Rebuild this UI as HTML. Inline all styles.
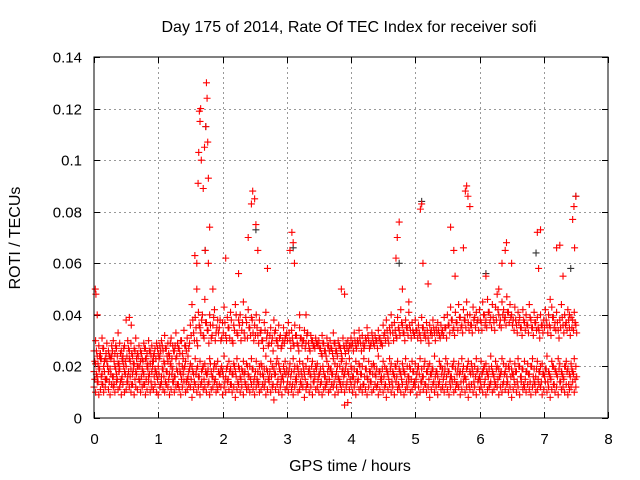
<!DOCTYPE html>
<html><head><meta charset="utf-8"><style>
body{margin:0;background:#fff;}
svg{display:block;font-family:"Liberation Sans",sans-serif;}
</style></head><body>
<svg id="chart" width="640" height="480" xmlns="http://www.w3.org/2000/svg">
<text x="349" y="32" font-size="16" text-anchor="middle" fill="#000">Day 175 of 2014, Rate Of TEC Index for receiver sofi</text>
<text x="350" y="471" font-size="16" text-anchor="middle" fill="#000">GPS time / hours</text>
<text x="20" y="238" font-size="16" text-anchor="middle" fill="#000" transform="rotate(-90 20 238)">ROTI / TECUs</text>
<g id="grid"></g>
<g id="ticks"></g>
<g id="marks-black"></g>
<g id="marks"></g>
<rect x="94" y="57" width="514" height="361" fill="none" stroke="#000" stroke-width="1"/>
</svg>
<script>
const xTicks=[0,1,2,3,4,5,6,7,8];
const yTicks=[0,0.02,0.04,0.06,0.08,0.1,0.12,0.14];
const yTickLabels=["0","0.02","0.04","0.06","0.08","0.1","0.12","0.14"];
const bandStart=0, bandStep=0.025, bandStart2=0.0125;
const rotiLowMilli=[12,10,14,9,11,13,10,12,15,11,9,13,12,10,14,11,12,9,13,10,11,14,12,10,13,9,12,11,15,10,12,13,9,11,14,10,12,11,13,10,9,12,14,11,10,13,12,9,11,14,
10,12,13,11,9,12,14,10,11,13,12,8,11,13,10,12,9,14,11,12,10,13,9,11,12,14,10,11,13,12,
9,12,10,14,11,13,10,12,8,11,13,10,12,9,14,11,12,10,13,11,
9,12,14,10,11,13,12,9,11,14,10,12,7,11,13,10,12,9,14,11,
12,10,13,11,9,12,14,10,11,13,12,8,11,13,10,12,9,14,11,12,
10,13,9,11,12,14,10,11,13,12,9,12,10,14,11,13,10,12,6,11,
13,10,12,9,14,11,12,10,13,11,9,12,14,10,11,13,12,9,11,14,
10,12,8,11,13,10,12,9,14,11,12,10,13,9,11,12,14,10,11,13,
12,9,12,10,14,11,13,10,12,8,11,13,10,12,9,14,11,12,10,13,
11,9,12,14,10,11,13,12,9,11,14,10,12,8,11,13,10,12,9,14,
11,12,10,13,9,11,12,14,10,11,13,12,9,12,10,14,11,13,10,12,
8,11,13,10,12,9,14,11,12,10,13,11,9,12,14,10,11,13,12,9,
11,14,10,12,8,11,13,10,12,9,14,11,12,10,13,9,11,12,14,10,12];
const rotiMidMilli=[18,21,16,19,23,17,20,15,22,18,19,24,16,20,17,21,19,15,22,18,20,16,23,19,17,21,18,20,15,22,
19,17,23,20,16,21,18,22,19,17,20,24,16,19,21,18,22,17,20,19,
16,23,18,21,17,20,19,22,15,18,21,20,17,23,19,16,22,18,20,21,
17,19,23,18,16,21,20,22,17,19,18,24,16,20,22,19,17,21,18,23,
20,16,19,22,18,21,17,20,23,19,16,22,18,20,21,17,19,24,18,16,
22,20,19,17,23,21,18,16,20,22,19,17,21,18,23,20,16,19,22,18,
21,17,20,23,19,16,22,18,20,21,17,19,24,18,16,22,20,19,17,23,
21,18,16,20,22,19,17,21,18,23,20,16,19,22,18,21,17,20,23,19,
16,22,18,20,21,17,19,24,18,16,22,20,19,17,23,21,18,16,20,22,
19,17,21,18,23,20,16,19,22,18,21,17,20,23,19,16,22,18,20,21,
17,19,24,18,16,22,20,19,17,23,21,18,16,20,22,19,17,21,18,23,
20,16,19,22,18,21,17,20,23,19,16,22,18,20,21,17,19,24,18,16,
22,20,19,17,23,21,18,16,20,22,19,17,21,18,23,20,16,19,22,18,
21,17,20,23,19,16,22,18,20,21,17,19,24,18,16,22,20,19,17,23,
21,18,16,20,22,19,17,21,18,23,20];
const rotiHighMilli=[26,30,24,28,25,31,27,23,29,26,24,28,30,25,27,33,29,26,24,28,
38,30,26,29,24,27,31,25,28,26,23,29,27,25,30,26,28,24,27,29,
25,28,30,26,32,27,29,24,31,28,26,33,29,27,30,25,34,28,31,27,
36,44,33,39,30,41,35,38,32,46,37,34,40,31,36,42,33,38,35,30,
37,43,32,39,35,41,30,36,44,33,38,40,34,45,31,37,42,35,39,33,
36,40,32,38,34,30,37,41,33,29,35,31,38,34,30,36,32,28,35,31,
33,37,30,34,29,36,32,28,35,31,30,34,29,33,27,32,30,28,31,29,
30,27,32,29,26,31,28,30,27,33,29,26,30,28,25,31,27,29,30,28,
31,29,33,28,30,34,29,32,27,31,35,30,28,33,29,32,30,34,31,29,
36,33,38,31,35,40,33,37,32,39,34,42,36,33,38,35,41,34,37,33,
38,34,36,32,39,35,33,37,31,36,34,38,33,35,37,32,36,34,39,35,
40,36,43,38,35,41,37,44,39,36,42,38,45,37,40,36,43,39,41,38,
42,37,45,40,38,46,41,39,44,37,43,48,40,38,45,42,39,47,41,44,
40,38,43,36,41,39,35,42,37,40,36,44,38,35,41,37,39,34,40,36,
38,42,36,40,35,43,39,37,41,34,38,44,36,40,37,42,35,39,38,41,36];
const rotiMid2Milli=[15,17,14,19,16,13,18,15,20,14,17,16,13,19,15,18,14,16,20,17,
14,18,16,13,19,15,17,20,14,16,18,13,15,19,17,14,20,16,18,15,
17,13,19,16,14,18,15,21,17,14,16,19,13,18,15,17,20,14,16,19,
15,18,14,17,20,16,13,19,15,18,17,14,21,16,19,15,13,18,17,20,
16,14,19,15,18,13,17,20,16,14,19,15,18,17,13,20,16,15,19,14,
18,15,13,17,20,16,14,19,15,18,16,13,17,21,15,19,14,16,18,17,
14,19,16,13,18,15,20,17,14,16,19,15,13,18,17,20,14,16,19,15,
17,14,20,16,13,18,15,19,17,14,16,20,15,13,18,16,19,14,17,15,
19,16,14,18,15,20,17,13,16,19,15,18,14,17,20,16,13,18,15,19,
16,13,18,15,19,14,17,20,16,13,18,15,19,17,14,16,20,15,18,14,
15,19,17,14,16,20,13,18,15,17,19,14,16,18,13,20,17,15,19,16,
18,14,16,20,15,13,19,17,14,18,16,15,20,13,17,19,14,16,18,15,
14,17,19,15,18,16,13,20,17,14,19,15,16,18,13,17,20,14,19,16,
17,15,18,14,20,16,19,13,15,18,17,14,20,16,13,19,15,18,14,17,
16,19,14,17,15,20,13,18,16,19,14,17,15,20,18,13,16,19,17,15,16];
const rotiHigh2Milli=[22,26,21,24,23,27,22,25,20,24,23,26,22,28,24,21,25,23,27,22,
24,27,22,25,21,26,23,24,20,25,22,27,23,21,26,24,22,25,23,27,
23,26,28,22,27,24,25,29,23,26,28,24,27,25,30,23,28,26,24,29,
32,38,30,35,28,36,33,40,31,37,34,29,36,32,39,30,35,33,38,31,
33,37,30,35,31,38,29,34,40,32,36,30,37,33,39,31,35,32,38,30,
32,35,29,33,30,27,34,31,28,32,29,26,33,30,28,31,27,30,29,32,
30,33,27,31,28,32,29,26,31,28,30,27,32,29,26,30,28,27,29,28,
27,25,29,26,24,28,26,27,25,29,26,24,28,27,23,28,25,27,26,28,
28,26,30,27,29,31,26,29,28,30,32,27,29,31,28,30,27,31,29,28,
32,30,34,29,33,36,30,34,31,35,32,37,33,30,35,32,36,31,34,32,
34,31,33,30,35,32,31,34,29,33,32,35,30,33,34,31,33,32,35,31,
36,33,38,34,32,37,34,39,35,33,38,35,40,34,36,33,38,35,37,34,
38,34,40,36,35,41,37,35,39,34,38,42,36,35,40,38,36,41,37,39,
36,34,38,33,37,35,32,38,34,36,33,39,35,32,37,34,35,31,36,33,
35,38,33,36,32,39,35,34,37,31,35,39,33,36,34,38,32,35,34,37,33];
const spikeTimes=[0.02,0.03,0.05,0.55,0.58,1.57,1.6,1.62,1.63,1.64,1.65,1.66,1.67,1.7,1.72,1.74,1.75,1.76,1.77,1.78,1.8,1.73,1.78,1.6,1.85,
2.05,2.4,2.45,2.47,2.5,2.52,2.55,2.7,2.25,3.05,3.08,3.1,3.12,3.2,3.3,3.85,3.9,3.9,
4.7,4.72,4.75,4.8,4.9,5.08,5.1,5.12,5.2,5.55,5.6,5.62,5.78,5.8,5.82,5.85,5.75,
6.1,6.35,6.4,6.42,6.5,6.3,6.9,6.95,6.92,7.1,7.2,7.25,7.3,7.45,7.47,7.5,7.48,7.4];
const spikeValues=[0.05,0.048,0.04,0.039,0.036,0.063,0.06,0.091,0.103,0.119,0.115,0.12,0.1,0.089,0.105,0.113,0.13,0.124,0.107,0.093,0.074,0.065,0.06,0.05,0.05,
0.062,0.07,0.083,0.088,0.085,0.075,0.065,0.058,0.056,0.065,0.072,0.068,0.06,0.04,0.04,0.05,0.048,0.005,
0.062,0.07,0.076,0.05,0.045,0.081,0.083,0.06,0.052,0.074,0.065,0.055,0.088,0.09,0.086,0.082,0.066,
0.055,0.06,0.065,0.068,0.06,0.05,0.072,0.073,0.058,0.046,0.066,0.067,0.055,0.077,0.082,0.086,0.066,0.04];
const blackTimes=[1.74,1.73,2.52,3.1,5.1,6.1,6.88,7.42,7.5,4.75];
const blackValues=[0.113,0.065,0.073,0.066,0.084,0.056,0.064,0.058,0.086,0.06];

const X0=94,X1=608,Y0=418,Y1=57;
const xs=t=>X0+(t-0)/(8-0)*(X1-X0);
const ys=v=>Y0-(v-0)/(0.14-0)*(Y0-Y1);
const NS="http://www.w3.org/2000/svg";
const grid=document.getElementById('grid'),ticks=document.getElementById('ticks');
function ln(g,x1,y1,x2,y2,st,dash){const l=document.createElementNS(NS,'line');l.setAttribute('x1',x1);l.setAttribute('y1',y1);l.setAttribute('x2',x2);l.setAttribute('y2',y2);l.setAttribute('stroke',st);if(dash)l.setAttribute('stroke-dasharray',dash);g.appendChild(l);return l;}
xTicks.forEach(t=>{const x=Math.round(xs(t))+0.5;
 if(t>0&&t<8){const g=ln(grid,x,Y1,x,Y0,'#999','2,3');
 
 }
 ln(ticks,x,Y0,x,Y0-6,'#000');ln(ticks,x,Y1,x,Y1+6,'#000');
 const tx=document.createElementNS(NS,'text');tx.setAttribute('x',x);tx.setAttribute('y',444);tx.setAttribute('font-size','15');tx.setAttribute('text-anchor','middle');tx.textContent=t;
 
 
 ticks.appendChild(tx);});
yTicks.forEach((v,i)=>{const y=Math.round(ys(v))+0.5;
 if(i>0&&i<yTicks.length-1){const g=ln(grid,X0,y,X1,y,'#999','2,3');
 
 }
 ln(ticks,X0,y,X0+6,y,'#000');ln(ticks,X1,y,X1-6,y,'#000');
 const tx=document.createElementNS(NS,'text');tx.setAttribute('x',82);tx.setAttribute('y',y+5);tx.setAttribute('font-size','15');tx.setAttribute('text-anchor','end');tx.textContent=yTickLabels[i];
 
 
 ticks.appendChild(tx);});
function plus(g,t,v,col,name){const x=xs(t),y=ys(v);const p=document.createElementNS(NS,'path');
 p.setAttribute('d',`M${x-3.5},${y}h7M${x},${y-3.5}v7`);p.setAttribute('stroke',col);p.setAttribute('stroke-width','1.1');
 
 
 g.appendChild(p);}
const mb=document.getElementById('marks-black'),mr=document.getElementById('marks');
blackTimes.forEach((t,i)=>plus(mb,t,blackValues[i],'#333','black-point'));
[rotiLowMilli,rotiMidMilli,rotiHighMilli].forEach(arr=>arr.forEach((m,i)=>plus(mr,bandStart+i*bandStep,m/1000,'#f00','roti-point')));
[rotiMid2Milli,rotiHigh2Milli].forEach(arr=>arr.forEach((m,i)=>plus(mr,bandStart2+i*bandStep,m/1000,'#f00','roti-point')));
spikeTimes.forEach((t,i)=>plus(mr,t,spikeValues[i],'#f00','roti-point'));
</script>
</body></html>
